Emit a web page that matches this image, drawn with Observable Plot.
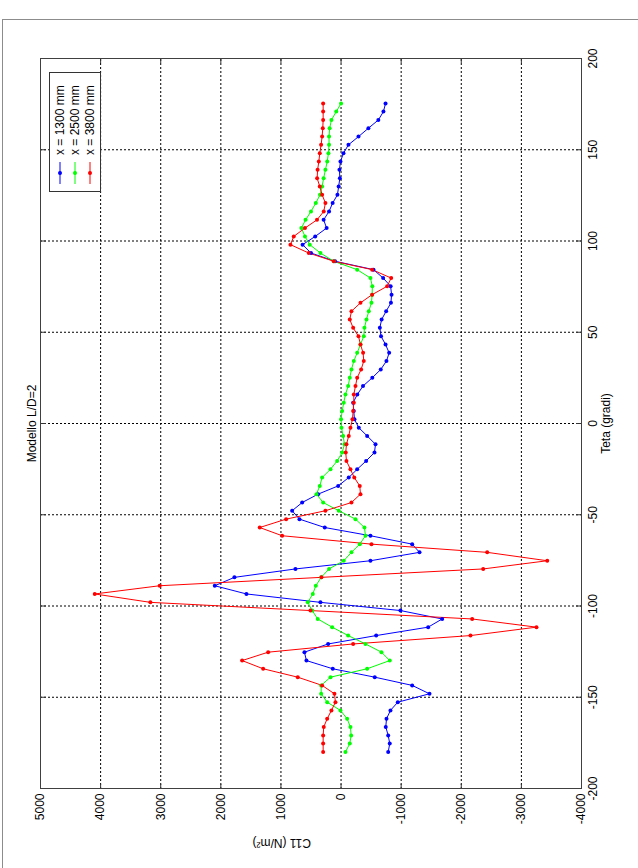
<!DOCTYPE html>
<html>
<head>
<meta charset="utf-8">
<script src="https://cdn.jsdelivr.net/npm/d3@7"></script>
<script src="https://cdn.jsdelivr.net/npm/@observablehq/plot@0.6"></script>
<style>
  html, body { margin: 0; padding: 0; background: #fff; width: 638px; height: 868px; overflow: hidden; }
  #wrap { position: absolute; left: 0; top: 0; width: 868px; height: 638px;
          transform-origin: 0 0; transform: translate(0, 868px) rotate(-90deg);
          font-family: "Liberation Sans", Arial, sans-serif; }
  #border { position: absolute; left: 2px; top: 19px; width: 700px; height: 900px; border: 1px solid #8c8c8c; }
  #legend { position: absolute; left: 676px; top: 49px; width: 118px; height: 50px;
            border: 1px solid #333; background: #fff; font-size: 12px; color: #000; }
  .lrow { position: absolute; left: 0; height: 14px; width: 118px; }
  .lrow svg { position: absolute; left: 5px; top: 0; }
  .lrow span { position: absolute; left: 36px; top: 0; line-height: 14px; white-space: nowrap; }
</style>
</head>
<body>
<div id="wrap"></div>
<div id="border"></div>
<script>
// ---- data ----
const title = "Modello L/D=2";
const xLabel = "Teta (gradi)";
const yLabel = "C11 (N/m²)";
const seriesNames = ["x = 1300 mm", "x = 2500 mm", "x = 3800 mm"];
const seriesColors = ["#0000ff", "#00ff00", "#ff0000"];
const thetaTicks = [-200, -150, -100, -50, 0, 50, 100, 150, 200];
const c11Ticks = [-4000, -3000, -2000, -1000, 0, 1000, 2000, 3000, 4000, 5000];

const theta = [-180.0, -175.4, -170.9, -166.3, -161.8, -157.2, -152.7, -148.1, -143.5, -139.0,
  -134.4, -129.9, -125.3, -120.8, -116.2, -111.6, -107.1, -102.5, -98.0, -93.4,
  -88.9, -84.3, -79.7, -75.2, -70.6, -66.1, -61.5, -57.0, -52.4, -47.8,
  -43.3, -38.7, -34.2, -29.6, -25.1, -20.5, -15.9, -11.4, -6.8, -2.3,
  2.3, 6.8, 11.4, 15.9, 20.5, 25.1, 29.6, 34.2, 38.7, 43.3,
  47.8, 52.4, 57.0, 61.5, 66.1, 70.6, 75.2, 79.7, 84.3, 88.9,
  93.4, 98.0, 102.5, 107.1, 111.6, 116.2, 120.8, 125.3, 129.9, 134.4,
  139.0, 143.5, 148.1, 152.7, 157.2, 161.8, 166.3, 170.9, 175.4];

const c1300 = [-784, -810, -784, -744, -756, -822, -944, -1471, -1183, -561,
  138, 576, 609, 215, -584, -1449, -1682, -988, 343, 1574,
  2101, 1774, 759, -489, -1305, -1183, -489, 271, 692, 814,
  647, 381, 48, -128, -268, -417, -556, -573, -434, -295,
  -223, -212, -201, -270, -365, -520, -660, -755, -800, -740,
  -665, -645, -675, -750, -830, -840, -825, -700, -540, 100,
  500, 640, 430, 240, 290, 200, 140, 60, 40, 20,
  27, 10, -40, -123, -290, -455, -620, -705, -740];

const c2500 = [-73, -145, -168, -156, -101, 10, 231, 331, 331, 176,
  -434, -810, -672, -406, -118, 148, 388, 480, 554, 470,
  420, 330, 200, -45, -173, -311, -406, -389, -240, 38,
  298, 409, 354, 315, 176, 65, -18, -57, -35, -7,
  0, -18, -45, -73, -118, -145, -173, -212, -268, -323,
  -378, -389, -423, -461, -506, -517, -520, -489, -268, 121,
  343, 521, 600, 660, 590, 500, 420, 350, 315, 290,
  260, 230, 210, 200, 200, 190, 160, 80, 0];

const c3800 = [298, 298, 298, 288, 231, 160, 93, 110, 315, 720,
  1296, 1646, 1213, -201, -2153, -3251, -2181, 509, 3172, 4098,
  3017, 326, -2365, -3430, -2431, -506, 980, 1353, 914, 260,
  -173, -323, -311, -220, -156, -90, -78, -90, -128, -156,
  -190, -201, -212, -212, -240, -268, -334, -378, -367, -323,
  -290, -201, -145, -173, -323, -517, -767, -834, -517, 121,
  537, 842, 787, 600, 400, 288, 260, 315, 354, 398,
  390, 370, 354, 332, 315, 304, 298, 298, 298];

// ---- table ----
const rows = [];
[c1300, c2500, c3800].forEach((vals, k) =>
  vals.forEach((v, i) => rows.push({theta: theta[i], c11: v, series: seriesNames[k]})));

const fmt = d => String(d);
const font = "'Liberation Sans', Arial, Helvetica, sans-serif";

const chart = Plot.plot({
  width: 868, height: 638,
  marginLeft: 79, marginRight: 59, marginTop: 40, marginBottom: 57,
  style: {fontFamily: font, fontSize: "12px", color: "#000", background: "transparent"},
  x: {domain: [-200, 200]},
  y: {domain: [-4000, 5000]},
  color: {domain: seriesNames, range: seriesColors},
  marks: [
    Plot.gridX(thetaTicks, {stroke: "#000", strokeOpacity: 1, strokeDasharray: "2,2"}),
    Plot.gridY(c11Ticks, {stroke: "#000", strokeOpacity: 1, strokeDasharray: "2,2"}),
    Plot.line(rows, {x: "theta", y: "c11", z: "series", stroke: "series", strokeWidth: 1}),
    Plot.dot(rows, {x: "theta", y: "c11", fill: "series", r: 2}),
    Plot.axisX(thetaTicks, {anchor: "bottom", tickSize: -5, tickFormat: () => "", label: null, stroke: "#333"}),
    Plot.axisX(thetaTicks, {anchor: "top", tickSize: -5, tickFormat: () => "", label: null, stroke: "#333"}),
    Plot.axisY(c11Ticks, {anchor: "left", tickSize: -5, tickFormat: () => "", label: null, stroke: "#333"}),
    Plot.axisY(c11Ticks, {anchor: "right", tickSize: -5, tickFormat: () => "", label: null, stroke: "#333"}),
    Plot.axisX(thetaTicks, {anchor: "bottom", tickSize: 0, tickPadding: 7, tickFormat: fmt, label: null, fontSize: 12}),
    Plot.axisY(c11Ticks, {anchor: "left", tickSize: 0, tickPadding: 5, tickFormat: fmt, label: null, fontSize: 12}),
    Plot.frame({stroke: "#404040"}),
    Plot.text([xLabel], {text: d => d, frameAnchor: "bottom", dy: 28, fontSize: 12}),
    Plot.text([yLabel], {text: d => d, frameAnchor: "left", dx: -54, rotate: -90, fontSize: 12}),
    Plot.text([title], {text: d => d, frameAnchor: "top", dy: -13, fontSize: 12})
  ]
});

const wrap = document.getElementById("wrap");
wrap.appendChild(chart);

// ---- legend ----
const legend = document.createElement("div");
legend.id = "legend";
seriesNames.forEach((name, k) => {
  const row = document.createElement("div");
  row.className = "lrow";
  row.style.top = (3 + k * 15) + "px";
  const c = seriesColors[k];
  row.innerHTML = `<svg width="28" height="14"><line x1="2" y1="7" x2="24" y2="7" stroke="${c}" stroke-width="1"/><circle cx="13" cy="7" r="2" fill="${c}"/></svg><span>${name}</span>`;
  legend.appendChild(row);
});
wrap.appendChild(legend);
</script>
</body>
</html>
